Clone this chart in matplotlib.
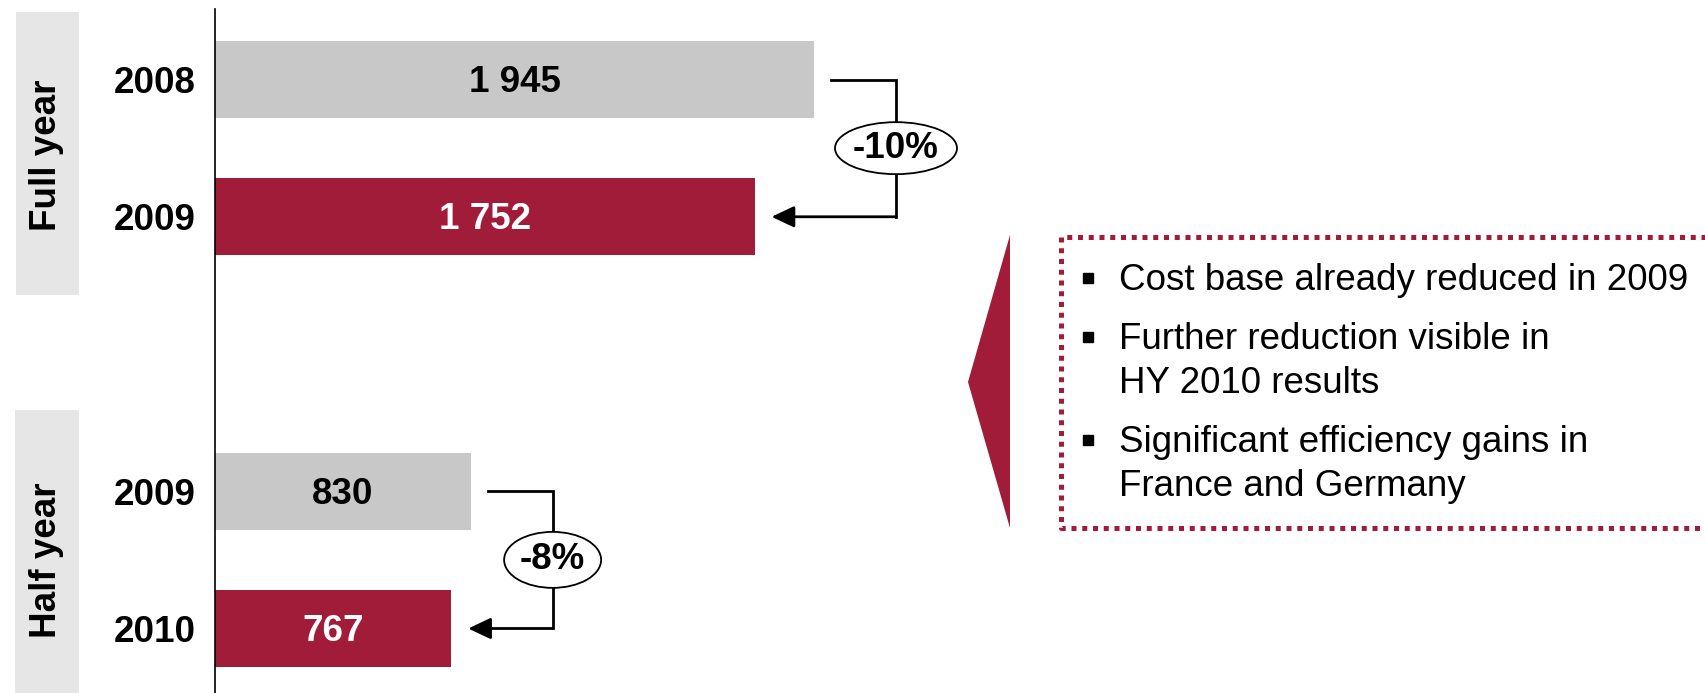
import matplotlib.pyplot as plt
from matplotlib.patches import Ellipse, Rectangle, Polygon, FancyArrowPatch

plt.rcParams['font.family'] = ['Liberation Sans', 'DejaVu Sans']

# cost base, full year and half year
years = ['2008', '2009', '2009', '2010']
costs = [1945, 1752, 830, 767]
periods = ['Full year', 'Half year']
changes = ['-10%', '-8%']
bullets = [
    ['Cost base already reduced in 2009'],
    ['Further reduction visible in', 'HY 2010 results'],
    ['Significant efficiency gains in', 'France and Germany'],
]

RED = '#A11C39'
GREY = '#C8C8C8'
PANEL = '#E6E6E6'
FS = 26.5

W, H = 1706, 693
fig = plt.figure(figsize=(W / 100, H / 100), dpi=100)

# pixel layer for side panels and the comment box
bg = fig.add_axes([0, 0, 1, 1])
bg.set_xlim(0, W)
bg.set_ylim(H, 0)
bg.axis('off')

# bar axes
x0 = 215
sx = 0.30797          # pixels per unit
sy = 137.25           # pixels per row
ax = fig.add_axes([x0 / W, 0, 1 - x0 / W, 684 / H])
ax.patch.set_alpha(0)
ax.set_xlim(0, (W - x0) / sx)
ax.set_ylim(4.470, -0.514)

pos = [0, 1, 3, 4]
colors = [GREY, RED, GREY, RED]
txt_colors = ['black', 'white', 'black', 'white']
ax.barh(pos, costs, height=0.56, color=colors)
for p, c, tc in zip(pos, costs, txt_colors):
    ax.text(c / 2, p + 0.02, f'{c:,}'.replace(',', ' '), ha='center', va='center',
            fontsize=FS, fontweight='bold', color=tc)

ax.set_yticks(pos)
ax.set_yticklabels(years, fontsize=FS, fontweight='bold')
ax.tick_params(axis='y', length=0, pad=14)
ax.set_xticks([])
for s in ['top', 'right', 'bottom']:
    ax.spines[s].set_visible(False)
ax.spines['left'].set_linewidth(1.2)

# change brackets
ell_sizes = [(122, 52), (97, 56)]
for k, (i, j) in enumerate([(0, 1), (2, 3)]):
    yi, yj = pos[i], pos[j]
    start = costs[i] + 17 / sx
    xv = costs[i] + 82 / sx
    tip = costs[j] + 17 / sx
    ax.plot([start, xv, xv], [yi, yi, yj], color='black', lw=2,
            solid_joinstyle='miter', solid_capstyle='projecting', zorder=2)
    ax.add_patch(FancyArrowPatch((xv, yj), (tip, yj),
                                 arrowstyle='-|>,head_length=0.55,head_width=0.26',
                                 mutation_scale=25, lw=2, color='black',
                                 shrinkA=0, shrinkB=0, zorder=2))
    ew, eh = ell_sizes[k]
    ym = (yi + yj) / 2
    ax.add_patch(Ellipse((xv, ym), ew / sx, eh / sy, fc='white', ec='black',
                         lw=1.3, zorder=3))
    ax.text(xv, ym, changes[k], ha='center', va='center', fontsize=FS,
            fontweight='bold', zorder=4)

# period panels
bg.add_patch(Rectangle((16, 12), 63, 283, color=PANEL, lw=0))
bg.add_patch(Rectangle((15, 410), 64, 300, color=PANEL, lw=0))
bg.text(47, 155, periods[0], rotation=90, ha='center', va='center',
        fontsize=FS, fontweight='bold')
bg.text(47, 560, periods[1], rotation=90, ha='center', va='center',
        fontsize=FS, fontweight='bold')

# pointer and dotted comment box
bg.add_patch(Polygon([(1010, 235), (1010, 528), (968, 382)], color=RED, lw=0))
bg.plot([W + 20, 1061.5, 1061.5, W + 20], [236.5, 236.5, 527.5, 527.5],
        color=RED, lw=3.6, linestyle=(0, (1, 1.15)), dash_capstyle='butt')

y = 290
for lines in bullets:
    bg.plot(1088, y - 12.5, marker='s', ms=7.5, color='black')
    for line in lines:
        bg.text(1119, y, line, fontsize=FS, va='baseline')
        y += 44
    y += 15

fig.savefig('out.png', dpi=100)
